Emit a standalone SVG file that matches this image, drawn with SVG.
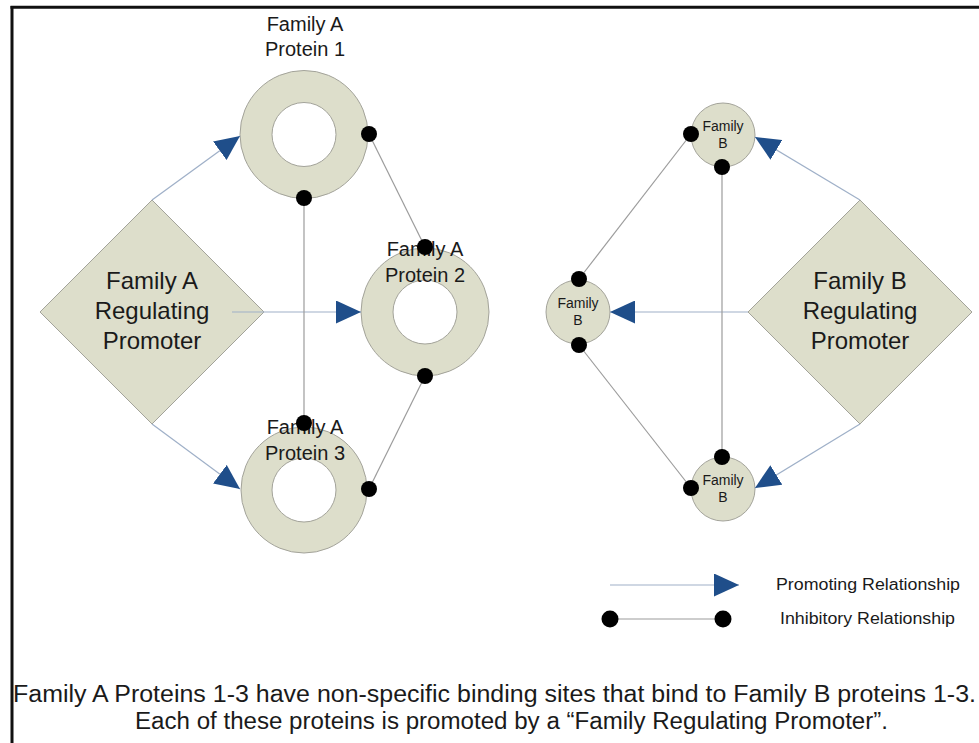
<svg xmlns="http://www.w3.org/2000/svg" width="979" height="743" viewBox="0 0 979 743">
<defs>
<marker id="arr" markerUnits="userSpaceOnUse" markerWidth="25" markerHeight="23" refX="25" refY="11.5" orient="auto">
<path d="M0,0 L25,11.5 L0,23 z" fill="#1f4e8a"/>
</marker>
<style>
.shape{fill:#dddecb;stroke:#a3a39a;stroke-width:1}
.hole{fill:#ffffff;stroke:#a3a39a;stroke-width:1}
.t{font-family:"Liberation Sans",Arial,sans-serif;fill:#1a1a1a;text-anchor:middle}
.ring{font-size:20px}
.dia{font-size:24px}
.sm{font-size:14px}
.prom{stroke:#9fb0c8;stroke-width:1.2;fill:none}
.inh{stroke:#9c9c9c;stroke-width:1.2;fill:none}
.dot{fill:#000000}
</style>
</defs>
<rect width="979" height="743" fill="#ffffff"/>
<g id="frame">
<line x1="10.5" y1="7.3" x2="979" y2="7.3" stroke="#111" stroke-width="3"/>
<line x1="12" y1="6" x2="12" y2="743" stroke="#111" stroke-width="3"/>
</g>
<g id="promoterA">
<polygon class="shape" points="152,200 264,312 152,424 40,312"/>
<text class="t dia" x="152" y="289">Family A</text>
<text class="t dia" x="152" y="319">Regulating</text>
<text class="t dia" x="152" y="349">Promoter</text>
</g>
<g id="proteinA1">
<circle class="shape" cx="304" cy="134.5" r="64"/>
<circle class="hole" cx="304" cy="134.5" r="32"/>
<text class="t ring" x="305" y="31">Family A</text>
<text class="t ring" x="305" y="56">Protein 1</text>
</g>
<g id="proteinA2">
<circle class="shape" cx="425" cy="312" r="64"/>
<circle class="hole" cx="425" cy="312" r="32"/>
<text class="t ring" x="425" y="256">Family A</text>
<text class="t ring" x="425" y="282">Protein 2</text>
</g>
<g id="proteinA3">
<circle class="shape" cx="304" cy="490" r="63"/>
<circle class="hole" cx="304" cy="490" r="32"/>
<text class="t ring" x="305" y="434">Family A</text>
<text class="t ring" x="305" y="460">Protein 3</text>
</g>
<g id="promoterB">
<polygon class="shape" points="860,200 972,312 860,424 748,312"/>
<text class="t dia" x="860" y="289">Family B</text>
<text class="t dia" x="860" y="319">Regulating</text>
<text class="t dia" x="860" y="349">Promoter</text>
</g>
<g id="proteinB1">
<circle class="shape" cx="723" cy="135" r="32"/>
<text class="t sm" x="723" y="131">Family</text>
<text class="t sm" x="723" y="148">B</text>
</g>
<g id="proteinB2">
<circle class="shape" cx="578" cy="312" r="32"/>
<text class="t sm" x="578" y="308">Family</text>
<text class="t sm" x="578" y="325">B</text>
</g>
<g id="proteinB3">
<circle class="shape" cx="723" cy="489" r="32"/>
<text class="t sm" x="723" y="485">Family</text>
<text class="t sm" x="723" y="502">B</text>
</g>
<g id="connectors">
<line class="prom" x1="152" y1="200" x2="240" y2="136" marker-end="url(#arr)"/>
<line class="prom" x1="232" y1="312" x2="361" y2="312" marker-end="url(#arr)"/>
<line class="prom" x1="152" y1="424" x2="240" y2="489" marker-end="url(#arr)"/>
<line class="prom" x1="860" y1="200" x2="755" y2="137" marker-end="url(#arr)"/>
<line class="prom" x1="748" y1="312" x2="610" y2="312" marker-end="url(#arr)"/>
<line class="prom" x1="860" y1="424" x2="755" y2="488" marker-end="url(#arr)"/>
<line class="inh" x1="304" y1="198" x2="304" y2="423"/>
<line class="inh" x1="369" y1="134" x2="425" y2="247"/>
<line class="inh" x1="425" y1="376" x2="369" y2="489"/>
<line class="inh" x1="722" y1="167" x2="722" y2="457"/>
<line class="inh" x1="691" y1="134" x2="579" y2="279"/>
<line class="inh" x1="579" y1="345" x2="691" y2="488"/>
<circle class="dot" cx="369" cy="134" r="8"/>
<circle class="dot" cx="304" cy="198" r="8"/>
<circle class="dot" cx="425" cy="247" r="8"/>
<circle class="dot" cx="425" cy="376" r="8"/>
<circle class="dot" cx="304" cy="423" r="8"/>
<circle class="dot" cx="369" cy="489" r="8"/>
<circle class="dot" cx="691" cy="134" r="8"/>
<circle class="dot" cx="722" cy="167" r="8"/>
<circle class="dot" cx="579" cy="279" r="8"/>
<circle class="dot" cx="579" cy="345" r="8"/>
<circle class="dot" cx="722" cy="457" r="8"/>
<circle class="dot" cx="691" cy="488" r="8"/>
</g>
<g id="legend">
<line class="prom" x1="610" y1="585" x2="739" y2="585" marker-end="url(#arr)"/>
<line class="inh" x1="610" y1="619" x2="723" y2="619"/>
<circle class="dot" cx="610" cy="619" r="8.5"/>
<circle class="dot" cx="723" cy="619" r="8.5"/>
<text class="t" style="font-size:16px;text-anchor:start" x="776" y="590" textLength="184" lengthAdjust="spacingAndGlyphs">Promoting Relationship</text>
<text class="t" style="font-size:16px;text-anchor:start" x="780" y="624" textLength="175" lengthAdjust="spacingAndGlyphs">Inhibitory Relationship</text>
</g>
<g id="caption">
<text class="t" style="font-size:23px;text-anchor:start" x="13" y="702" textLength="963" lengthAdjust="spacingAndGlyphs">Family A Proteins 1-3 have non-specific binding sites that bind to Family B proteins 1-3.</text>
<text class="t" style="font-size:23px;text-anchor:start" x="135" y="729" textLength="753" lengthAdjust="spacingAndGlyphs">Each of these proteins is promoted by a “Family Regulating Promoter”.</text>
</g>
</svg>
